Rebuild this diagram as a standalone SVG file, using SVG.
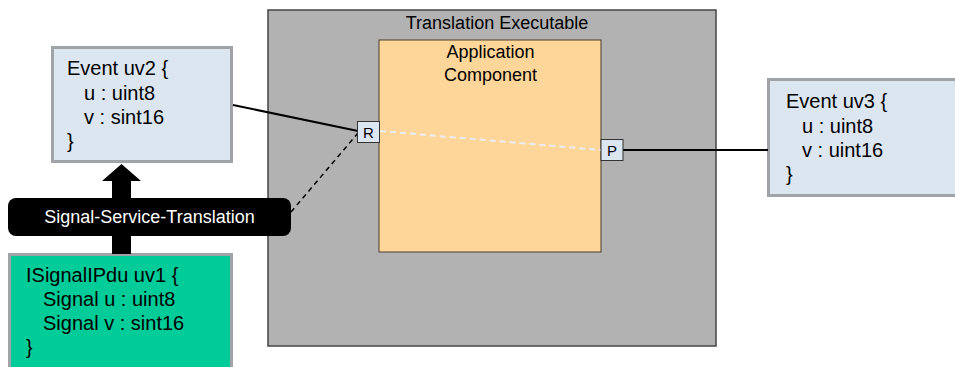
<svg xmlns="http://www.w3.org/2000/svg" width="955" height="367" viewBox="0 0 955 367">
<style>
text{font-family:"Liberation Sans",Arial,sans-serif;fill:#000}
.ev{fill:#DCE6F0;stroke:#A0A4A8;stroke-width:3}
.t20{font-size:20px}
.t18{font-size:18px}
.port{fill:#DCE6F0;stroke:#333;stroke-width:1}
.pt{font-size:15px;text-anchor:middle}
</style>
<rect width="955" height="367" fill="#fff"/>
<g id="translation-executable">
<rect x="268" y="10" width="448" height="336" fill="#B2B2B2" stroke="#444" stroke-width="1.5"/>
<text class="t18" x="497" y="29" text-anchor="middle">Translation Executable</text>
</g>
<g id="application-component">
<rect x="379" y="40" width="222" height="212" fill="#FFD699" stroke="#4A3C2A" stroke-width="1"/>
<text class="t18" x="490.5" y="58" text-anchor="middle">Application</text>
<text class="t18" x="490.5" y="81" text-anchor="middle">Component</text>
</g>
<g id="event-uv2">
<rect class="ev" x="52.5" y="47.5" width="179" height="114"/>
<text class="t20" x="67" y="75">Event uv2 {</text>
<text class="t20" x="84" y="100">u : uint8</text>
<text class="t20" x="84" y="124">v : sint16</text>
<text class="t20" x="67" y="148">}</text>
</g>
<g id="event-uv3">
<rect class="ev" x="768.5" y="79.5" width="200" height="116"/>
<text class="t20" x="786" y="108">Event uv3 {</text>
<text class="t20" x="802" y="133">u : uint8</text>
<text class="t20" x="802" y="157">v : uint16</text>
<text class="t20" x="786" y="181">}</text>
</g>
<g id="isignalipdu-uv1">
<rect x="9.5" y="254.5" width="222" height="130" fill="#00CC99" stroke="#A0A4A8" stroke-width="3"/>
<text class="t20" x="26" y="282">ISignalIPdu uv1 {</text>
<text class="t20" x="43" y="306">Signal u : uint8</text>
<text class="t20" x="43" y="330">Signal v : sint16</text>
<text class="t20" x="26" y="354">}</text>
</g>
<g id="connectors">
<polygon points="121.5,164 102,181 112,181 112,254 131,254 131,181 141,181" fill="#000"/>
<line x1="233" y1="105" x2="358" y2="131" stroke="#000" stroke-width="2"/>
<line x1="291" y1="212" x2="358" y2="133" stroke="#000" stroke-width="1.5" stroke-dasharray="5,4"/>
<line x1="380" y1="131" x2="601" y2="150" stroke="#E8EEF4" stroke-width="2" stroke-dasharray="6,4"/>
<line x1="623" y1="150" x2="768" y2="150" stroke="#000" stroke-width="2"/>
</g>
<g id="signal-service-translation">
<rect x="8" y="198" width="283" height="38" rx="8" fill="#000"/>
<text class="t18" x="149.5" y="223" text-anchor="middle" style="fill:#fff">Signal-Service-Translation</text>
</g>
<g id="port-r">
<rect class="port" x="357.5" y="121.5" width="22" height="21"/>
<text class="pt" x="368.5" y="137.5">R</text>
</g>
<g id="port-p">
<rect class="port" x="601" y="139.5" width="22" height="21"/>
<text class="pt" x="612" y="155.5">P</text>
</g>
</svg>
